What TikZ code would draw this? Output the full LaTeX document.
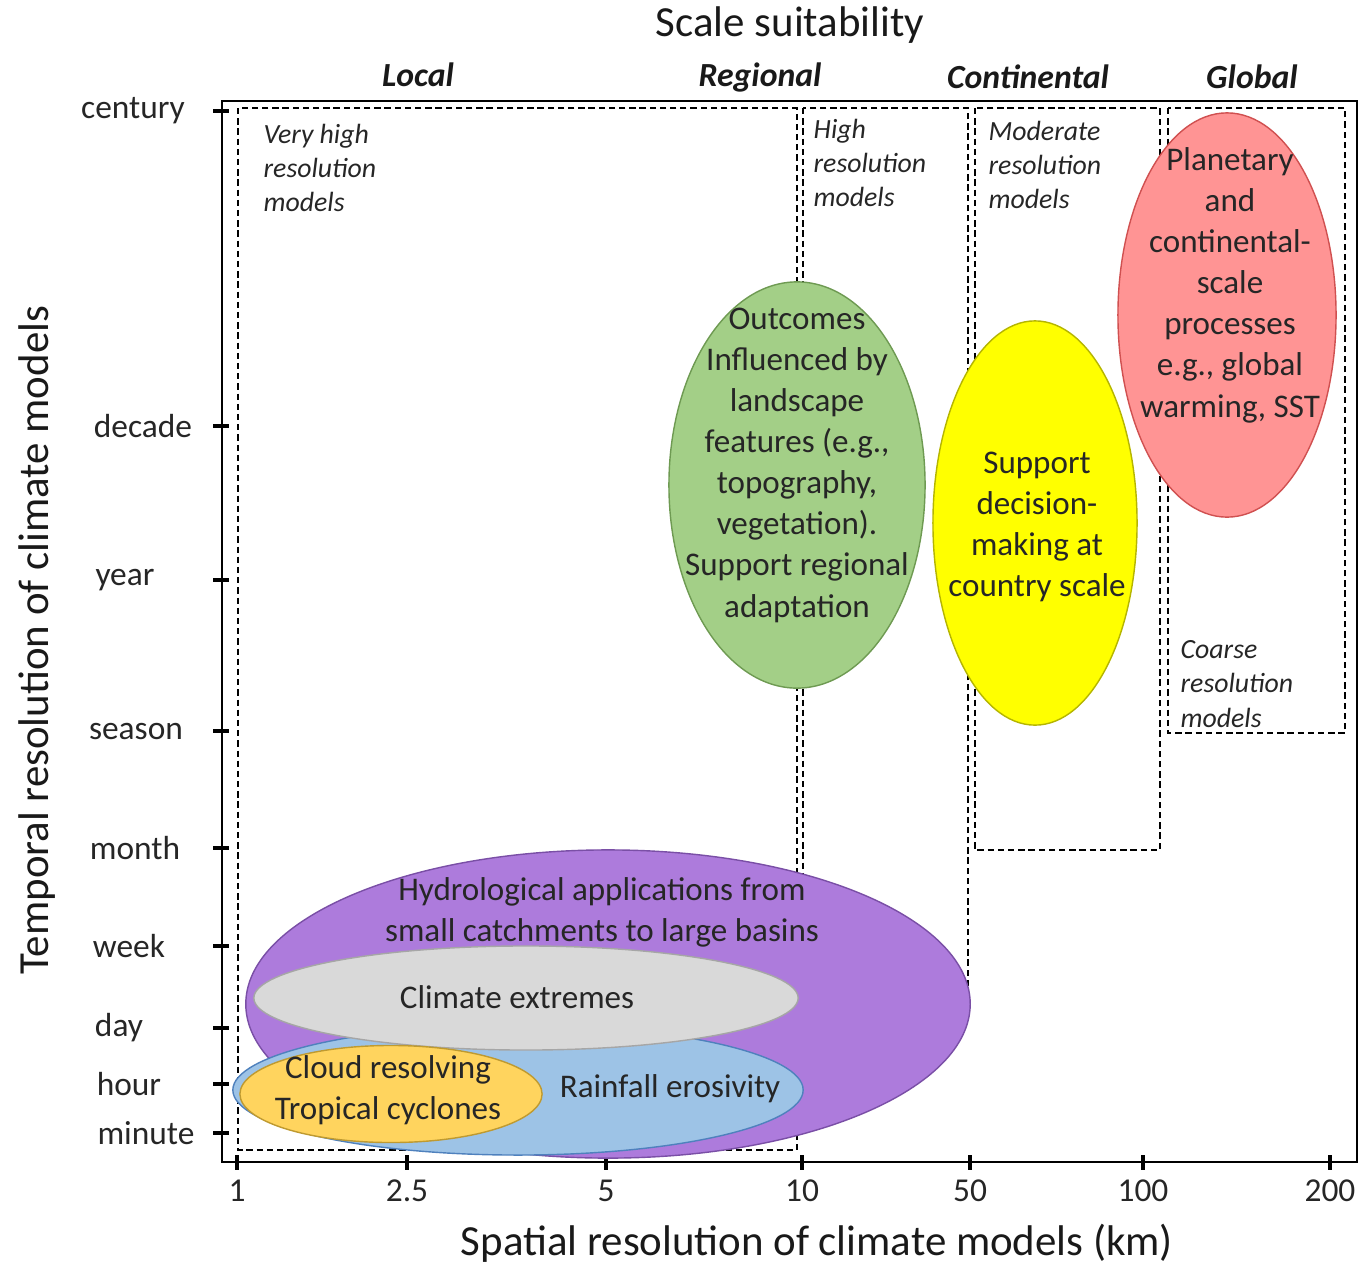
\documentclass[tikz,border=0pt]{standalone}
\usepackage{fontspec}
\setmainfont{Carlito}
\usepackage{xcolor}
\usetikzlibrary{shapes,positioning}

\definecolor{hydrofill}{HTML}{AD7BDC}
\definecolor{hydroline}{HTML}{7A4FA6}
\definecolor{extrfill}{HTML}{D9D9D9}
\definecolor{extrline}{HTML}{A6A6A6}
\definecolor{rainfill}{HTML}{9DC3E6}
\definecolor{rainline}{HTML}{4F81BD}
\definecolor{cloudfill}{HTML}{FFD45E}
\definecolor{cloudline}{HTML}{BF9A30}
\definecolor{landfill}{HTML}{A3CF87}
\definecolor{landline}{HTML}{6E9A52}
\definecolor{countryfill}{HTML}{FFFF00}
\definecolor{countryline}{HTML}{B5B500}
\definecolor{planetfill}{HTML}{FF9494}
\definecolor{planetline}{HTML}{D05050}

\begin{document}
\begin{tikzpicture}[x=0.01cm, y=-0.01cm,
    frame/.style={draw, line width=0.6pt},
    tickmark/.style={draw, line width=0.9pt},
    modelbox/.style={draw, line width=0.45pt, dash pattern=on 1.8pt off 1.1pt},
    bubble/.style={ellipse, draw, line width=0.4pt, inner sep=0pt},
    bubbletxt/.style={align=center, text=black!85, inner sep=0pt, font=\fontsize{9.4}{11.7}\selectfont},
    boxtxt/.style={align=left, text=black!85, inner sep=0pt, font=\fontsize{7.9}{9.7}\selectfont\itshape},
    scaletxt/.style={text=black!90, font=\fontsize{9.6}{11}\selectfont\bfseries\itshape},
    ticktxt/.style={text=black!85, font=\fontsize{9.5}{11}\selectfont},
    axistxt/.style={text=black!90, font=\fontsize{12.2}{14}\selectfont}]

    \useasboundingbox (0,0) rectangle (1360,1263);

    % Frame and ticks
    \draw[frame] (222,101) rectangle (1357,1162);
    \foreach \lab/\xx/\yy in {century/133/111, decade/143/426, year/125/580, season/136/731,
        month/135/848, week/129/946, day/119/1028, hour/129/1084, minute/146/1133} {
        \draw[tickmark] (213,\yy) -- (229,\yy);
        \node[ticktxt] (yt-\lab) at (\xx,\yy) {\lab};
    }
    \foreach \val/\xx [count=\i] in {1/237, 2.5/407, 5/606, 10/802, 50/970, 100/1143, 200/1330} {
        \draw[tickmark] (\xx,1155) -- (\xx,1170);
        \node[ticktxt] (xt\i) at (\xx,1191) {\val};
    }

    % Axis titles
    \node[axistxt] (title) at (790,25) {Scale suitability};
    \node[axistxt] (xtitle) at (817,1243) {Spatial resolution of climate models (km)};
    \node[axistxt, rotate=90] (ytitle) at (37,640) {Temporal resolution of climate models};

    % Scale headings
    \node[scaletxt] (local) at (418,75) {Local};
    \node[scaletxt] (regional) at (760,77) {Regional};
    \node[scaletxt] (continental) at (1028,77) {Continental};
    \node[scaletxt] (global) at (1252,77) {Global};

    % Model resolution boxes
    \draw[modelbox] (238,108) rectangle (797,1150);
    \draw[modelbox] (803,108) rectangle (968,1000);
    \draw[modelbox] (975,108) rectangle (1160,850);
    \draw[modelbox] (1168,108) rectangle (1345,733);

    \node[boxtxt, anchor=west] (veryhigh) at (263,168) {Very high\\resolution\\models};
    \node[boxtxt, anchor=west] (high) at (813,163) {High\\resolution\\models};
    \node[boxtxt, anchor=west] (moderate) at (988,165) {Moderate\\resolution\\models};
    \node[boxtxt, anchor=west] (coarse) at (1180,684) {Coarse\\resolution\\models};

    % Application ellipses
    \node[bubble, fill=hydrofill, draw=hydroline, minimum width=7.24cm, minimum height=3.08cm] (hydro) at (608,1004) {};
    \node[bubble, fill=rainfill, draw=rainline, minimum width=5.70cm, minimum height=1.30cm] (rain) at (518,1090) {};
    \node[bubble, fill=extrfill, draw=extrline, minimum width=5.44cm, minimum height=1.04cm] (extremes) at (526,998) {};
    \node[bubble, fill=cloudfill, draw=cloudline, minimum width=3.02cm, minimum height=0.97cm] (cloud) at (391,1094) {};
    \node[bubble, fill=landfill, draw=landline, minimum width=2.56cm, minimum height=4.06cm] (land) at (797,485) {};
    \node[bubble, fill=countryfill, draw=countryline, minimum width=2.04cm, minimum height=4.04cm] (country) at (1035,523) {};
    \node[bubble, fill=planetfill, draw=planetline, minimum width=2.18cm, minimum height=4.04cm] (planet) at (1227,315) {};

    % Ellipse texts
    \node[bubbletxt] (hydro-txt) at (602,912) {Hydrological applications from\\small catchments to large basins};
    \node[bubbletxt] (extremes-txt) at (517,997) {Climate extremes};
    \node[bubbletxt] (rain-txt) at (670,1089) {Rainfall erosivity};
    \node[bubbletxt] (cloud-txt) at (388,1090) {Cloud resolving\\Tropical cyclones};
    \node[bubbletxt] (land-txt) at (797,465) {Outcomes\\Influenced by\\landscape\\features (e.g.,\\topography,\\vegetation).\\Support regional\\adaptation};
    \node[bubbletxt] (country-txt) at (1037,527) {Support\\decision-\\making at\\country scale};
    \node[bubbletxt] (planet-txt) at (1230,285) {Planetary\\and\\continental-\\scale\\processes\\e.g., global\\warming, SST};

\end{tikzpicture}
\end{document}
